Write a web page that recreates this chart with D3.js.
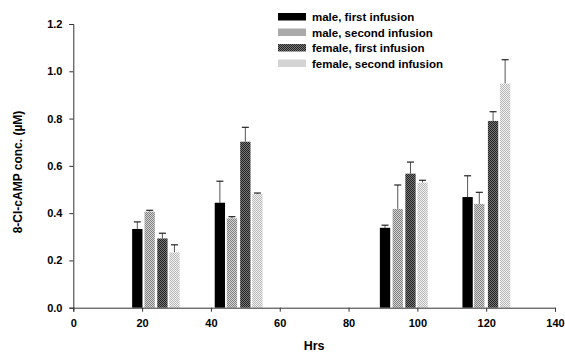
<!DOCTYPE html>
<html>
<head>
<meta charset="utf-8">
<script src="https://cdn.jsdelivr.net/npm/d3@7"></script>
<style>
  body { margin: 0; background: #fff; }
  text { font-family: Arial, "Liberation Sans", sans-serif; font-weight: bold; fill: #000; }
</style>
</head>
<body>
<div id="chart"></div>
<script>
// Series (hours where each bar sits, mean, and SE above the mean)
const seriesNames = ["male, first infusion", "male, second infusion", "female, first infusion", "female, second infusion"];

const maleFirstHrs = [18.6, 42.6, 90.6, 114.6];
const maleFirstVal = [0.333, 0.444, 0.338, 0.468];
const maleFirstErr = [0.030, 0.091, 0.011, 0.090];

const maleSecondHrs = [22.2, 46.1, 94.3, 118.0];
const maleSecondVal = [0.406, 0.378, 0.418, 0.439];
const maleSecondErr = [0.006, 0.007, 0.101, 0.049];

const femaleFirstHrs = [25.9, 50.0, 98.0, 122.0];
const femaleFirstVal = [0.293, 0.702, 0.567, 0.790];
const femaleFirstErr = [0.022, 0.061, 0.049, 0.039];

const femaleSecondHrs = [29.4, 53.5, 101.5, 125.5];
const femaleSecondVal = [0.234, 0.480, 0.529, 0.948];
const femaleSecondErr = [0.032, 0.005, 0.010, 0.101];

const xTicks = [0, 20, 40, 60, 80, 100, 120, 140];
const yTicks = [0.0, 0.2, 0.4, 0.6, 0.8, 1.0, 1.2];

const series = [
  { name: seriesNames[0], hrs: maleFirstHrs, val: maleFirstVal, err: maleFirstErr, fill: "#000" },
  { name: seriesNames[1], hrs: maleSecondHrs, val: maleSecondVal, err: maleSecondErr, fill: "url(#pMaleSecond)" },
  { name: seriesNames[2], hrs: femaleFirstHrs, val: femaleFirstVal, err: femaleFirstErr, fill: "url(#pFemaleFirst)" },
  { name: seriesNames[3], hrs: femaleSecondHrs, val: femaleSecondVal, err: femaleSecondErr, fill: "url(#pFemaleSecond)" }
];

const W = 565, H = 352;
const plotLeft = 73.3, plotRight = 555, plotTop = 24, plotBottom = 307.7;
const barW = 3.0; // hours

const svg = d3.select("#chart").append("svg")
  .attr("width", W)
  .attr("height", H);

// checker patterns for the hatched bars
const defs = svg.append("defs");
function checker(id, a, b) {
  const p = defs.append("pattern")
    .attr("id", id)
    .attr("patternUnits", "userSpaceOnUse")
    .attr("width", 2).attr("height", 2);
  p.append("rect").attr("width", 2).attr("height", 2).attr("fill", a);
  p.append("rect").attr("width", 1).attr("height", 1).attr("fill", b);
  p.append("rect").attr("x", 1).attr("y", 1).attr("width", 1).attr("height", 1).attr("fill", b);
}
checker("pMaleSecond", "#d4d4d4", "#808080");
checker("pFemaleFirst", "#777", "#222");
checker("pFemaleSecond", "#f0f0f0", "#b8b8b8");

const x = d3.scaleLinear().domain([0, 140]).range([plotLeft, plotRight]);
const y = d3.scaleLinear().domain([0, 1.2]).range([plotBottom, plotTop]);

// bars + error bars
series.forEach(s => {
  const g = svg.append("g");
  const pts = s.hrs.map((h, i) => ({ h, v: s.val[i], e: s.err[i] }));

  g.selectAll("line.stem")
    .data(pts)
    .enter()
    .append("line")
    .attr("x1", d => x(d.h))
    .attr("x2", d => x(d.h))
    .attr("y1", d => y(d.v))
    .attr("y2", d => y(d.v + d.e))
    .attr("stroke", "#555")
    .attr("stroke-width", 1);

  g.selectAll("line.cap")
    .data(pts)
    .enter()
    .append("line")
    .attr("x1", d => x(d.h) - 3.5)
    .attr("x2", d => x(d.h) + 3.5)
    .attr("y1", d => y(d.v + d.e))
    .attr("y2", d => y(d.v + d.e))
    .attr("stroke", "#222")
    .attr("stroke-width", 1.2);

  g.selectAll("rect")
    .data(pts)
    .enter()
    .append("rect")
    .attr("x", d => x(d.h - barW / 2))
    .attr("y", d => y(d.v))
    .attr("width", x(barW) - x(0))
    .attr("height", d => y(0) - y(d.v))
    .attr("fill", s.fill);
});

// axes
const xAxis = d3.axisBottom(x).tickValues(xTicks).tickSize(4).tickFormat(d3.format("d"));
const yAxis = d3.axisLeft(y).tickValues(yTicks).tickSize(4).tickFormat(d3.format(".1f"));

const gx = svg.append("g")
  .attr("transform", `translate(0,${plotBottom})`)
  .call(xAxis);
const gy = svg.append("g")
  .attr("transform", `translate(${plotLeft},0)`)
  .call(yAxis);

[gx, gy].forEach(g => {
  g.select(".domain").attr("stroke", "#333");
  g.selectAll(".tick line").attr("stroke", "#333");
  g.selectAll("text")
    .style("font-family", "Arial, 'Liberation Sans', sans-serif")
    .style("font-weight", "bold")
    .style("font-size", "11px")
    .attr("fill", "#000");
});
gx.selectAll("text").attr("dy", "1.1em");
gy.selectAll("text").attr("dx", "-0.35em");

// axis labels
svg.append("text")
  .attr("transform", `translate(18,${172}) rotate(-90)`)
  .attr("text-anchor", "middle")
  .attr("dy", "0.35em")
  .style("font-size", "12px")
  .text("8-Cl-cAMP conc. (\u00b5M)");

svg.append("text")
  .attr("x", (plotLeft + plotRight) / 2)
  .attr("y", 349.5)
  .attr("text-anchor", "middle")
  .style("font-size", "12.5px")
  .text("Hrs");

// legend
const legend = svg.append("g").attr("transform", "translate(278,13)");
const rows = legend.selectAll("g")
  .data(series)
  .enter()
  .append("g")
  .attr("transform", (d, i) => `translate(0,${i * 15.5})`);
rows.append("rect")
  .attr("width", 28)
  .attr("height", 7.5)
  .attr("fill", d => d.fill);
rows.append("text")
  .attr("x", 34)
  .attr("y", 4)
  .attr("dy", "0.35em")
  .style("font-size", "11.5px")
  .text(d => d.name);
</script>
</body>
</html>
